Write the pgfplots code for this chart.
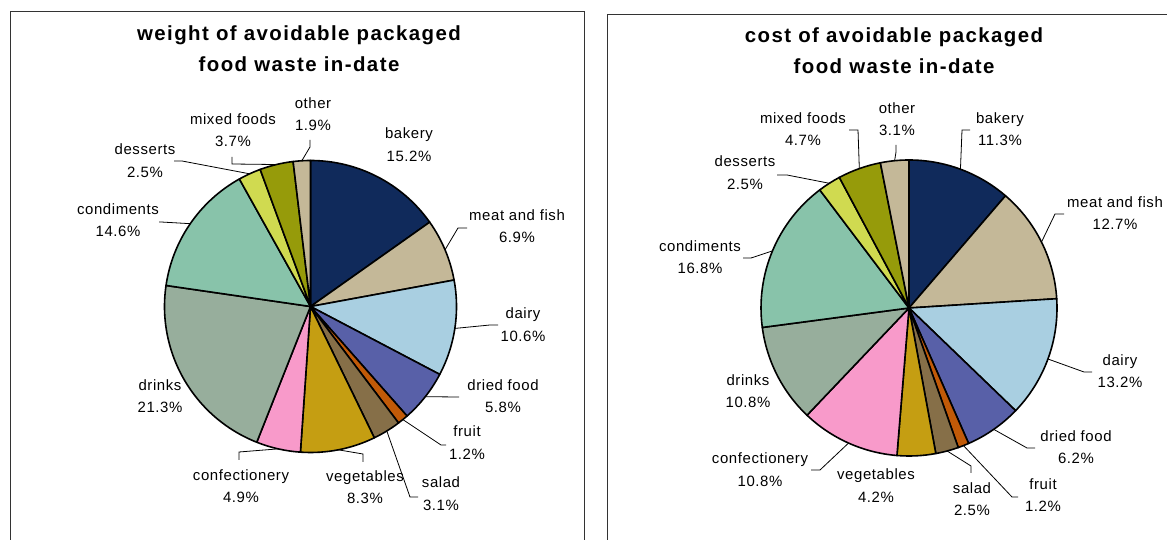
\documentclass[border=0pt]{standalone}
\usepackage{fontspec}
\setmainfont{Liberation Sans}
\newfontfamily\lblfont{Liberation Sans}[LetterSpace=4]
\newfontfamily\ttlfont{Liberation Sans}[LetterSpace=7]
\usepackage{pgfplots}
\usepackage{pgfplotstable}
\pgfplotsset{compat=1.18}

% slice colours, clockwise from 12 o'clock
\definecolor{slice0}{RGB}{16,42,91}
\definecolor{slice1}{RGB}{196,184,152}
\definecolor{slice2}{RGB}{169,207,225}
\definecolor{slice3}{RGB}{88,96,168}
\definecolor{slice4}{RGB}{193,90,8}
\definecolor{slice5}{RGB}{134,111,72}
\definecolor{slice6}{RGB}{197,158,18}
\definecolor{slice7}{RGB}{248,154,202}
\definecolor{slice8}{RGB}{151,174,156}
\definecolor{slice9}{RGB}{136,195,170}
\definecolor{slice10}{RGB}{208,218,80}
\definecolor{slice11}{RGB}{150,155,10}
\definecolor{slice12}{RGB}{196,184,152}

% value in percent; label centre (lx,ly); leader elbow (ex,ey) and end (tx,ty)
\pgfplotstableread{
name value lx ly lead ex ey tx ty
bakery 15.2 409 144.5 0 0 0 0 0
{meat and fish} 6.9 517 226 1 458 228 467 228
dairy 10.6 523 324.5 1 490 325 498 325
{dried food} 5.8 503 396 1 459 397 459 397
fruit 1.2 467 442.5 1 441 445 446 445
salad 3.1 441 493.5 1 410 497 418 497
vegetables 8.3 365 487 1 363 454 363 462
confectionery 4.9 241 486 1 239 452 239 460
drinks 21.3 160 396 0 0 0 0 0
condiments 14.6 118 220 1 161 222 159 222
desserts 2.5 145 160.5 1 182 161 174 161
{mixed foods} 3.7 233 130 1 232 164 232 157
other 1.9 313 114 1 310 147 310 140
}\weighttable

\pgfplotstableread{
name value lx ly lead ex ey tx ty
bakery 11.3 1000 129 1 962 130 970 130
{meat and fish} 12.7 1115 213 1 1055 214 1064 214
dairy 13.2 1120 371 1 1084 372 1092 372
{dried food} 6.2 1076 447 1 1027 448 1035 448
fruit 1.2 1043 495 1 1012 497 1018 497
salad 2.5 972 499 1 971 466 971 473
vegetables 4.2 876 485.5 0 0 0 0 0
confectionery 10.8 760 469.5 1 820 470 811 470
drinks 10.8 748 391 0 0 0 0 0
condiments 16.8 700 257 1 751 258 743 258
desserts 2.5 745 172.5 1 787 175 777 175
{mixed foods} 4.7 803 129 1 858 130 849 130
other 3.1 897 119 1 896 152 896 145
}\costtable

\tikzset{lbl/.style={align=center, font=\lblfont\fontsize{15}{22.5}\selectfont, inner sep=0pt}}

% #1 table, #2 centre x, #3 centre y, #4 radius (axis units = bp)
\newcommand\drawpie[4]{%
  \pgfplotstablegetrowsof{#1}%
  \pgfmathtruncatemacro\lastrow{\pgfplotsretval-1}%
  \def\cum{0}%
  \pgfplotsforeachungrouped \i in {0,...,\lastrow}{%
    \pgfplotstablegetelem{\i}{value}\of{#1}\let\val\pgfplotsretval
    \pgfmathsetmacro\aa{90-3.6*\cum}%
    \pgfmathsetmacro\ab{90-3.6*(\cum+\val)}%
    \edef\temp{\noexpand\filldraw[fill=slice\i, draw=black, line width=1.6bp, line join=round]
      (axis cs:#2,#3) -- ++(\aa:#4bp) arc[start angle=\aa, end angle=\ab, radius=#4bp] -- cycle;}%
    \temp
    \pgfmathsetmacro\cum{\cum+\val}%
  }%
  \def\cum{0}%
  \pgfplotsforeachungrouped \i in {0,...,\lastrow}{%
    \pgfplotstablegetelem{\i}{value}\of{#1}\let\val\pgfplotsretval
    \pgfplotstablegetelem{\i}{name}\of{#1}\let\nm\pgfplotsretval
    \pgfplotstablegetelem{\i}{lx}\of{#1}\let\lx\pgfplotsretval
    \pgfplotstablegetelem{\i}{ly}\of{#1}\let\ly\pgfplotsretval
    \pgfplotstablegetelem{\i}{lead}\of{#1}\let\ld\pgfplotsretval
    \pgfplotstablegetelem{\i}{ex}\of{#1}\let\ex\pgfplotsretval
    \pgfplotstablegetelem{\i}{ey}\of{#1}\let\ey\pgfplotsretval
    \pgfplotstablegetelem{\i}{tx}\of{#1}\let\tx\pgfplotsretval
    \pgfplotstablegetelem{\i}{ty}\of{#1}\let\ty\pgfplotsretval
    \pgfmathsetmacro\am{90-3.6*(\cum+\val/2)}%
    \pgfmathsetmacro\px{#2+#4*cos(\am)}%
    \pgfmathsetmacro\py{#3-#4*sin(\am)}%
    \ifnum\ld=1
      \edef\temp{\noexpand\draw[black, line width=0.8bp]
        (axis cs:\px,\py) -- (axis cs:\ex,\ey) -- (axis cs:\tx,\ty);}%
      \temp
    \fi
    \edef\temp{\noexpand\node[lbl] at (axis cs:\lx,\ly) {\nm\noexpand\\\val\noexpand\%};}%
    \temp
    \pgfmathsetmacro\cum{\cum+\val}%
  }%
}

\begin{document}
\begin{tikzpicture}[x=1bp,y=1bp]
\begin{axis}[
  at={(10bp,0bp)}, anchor=south west,
  scale only axis, width=574bp, height=529bp,
  xmin=10, xmax=584, ymin=11, ymax=540, y dir=reverse,
  hide axis, clip=false,
]
  \draw[black!80, line width=0.8bp] (axis cs:10,560) -- (axis cs:10,11) -- (axis cs:584,11) -- (axis cs:584,560);
  \node[align=center, font=\ttlfont\bfseries\fontsize{20.5}{31}\selectfont] at (axis cs:299,48.5)
    {weight of avoidable packaged\\food waste in-date};
  \drawpie{\weighttable}{310.5}{306.5}{146}
\end{axis}
\begin{axis}[
  at={(607bp,0bp)}, anchor=south west,
  scale only axis, width=560bp, height=526bp,
  xmin=607, xmax=1167, ymin=14, ymax=540, y dir=reverse,
  hide axis, clip=false,
]
  \draw[black!80, line width=0.8bp] (axis cs:607.5,560) -- (axis cs:607.5,14.5) -- (axis cs:1190,14.5);
  \node[align=center, font=\ttlfont\bfseries\fontsize{20.5}{31}\selectfont] at (axis cs:894,50.5)
    {cost of avoidable packaged\\food waste in-date};
  \drawpie{\costtable}{909}{308}{148}
\end{axis}
\pgfresetboundingbox
\path[use as bounding box] (0,0) rectangle (1167,540);
\end{tikzpicture}
\end{document}
